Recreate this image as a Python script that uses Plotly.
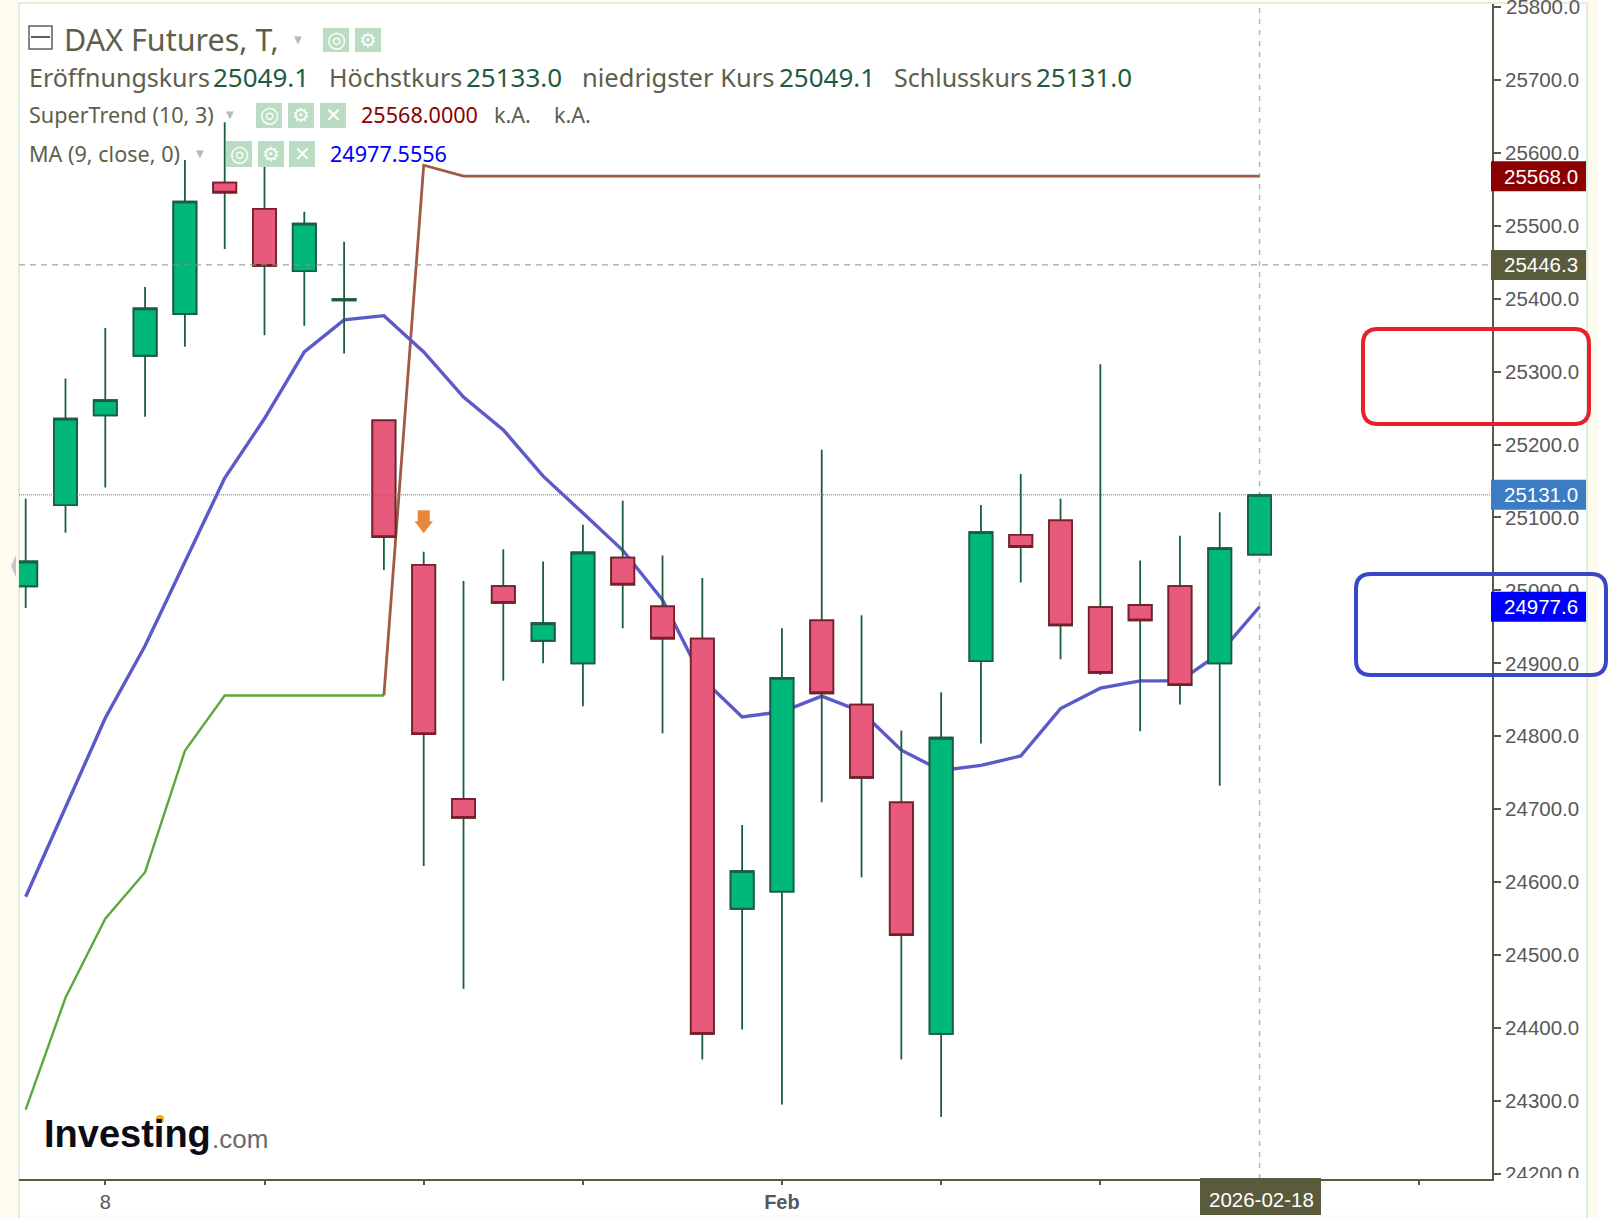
import plotly.graph_objects as go

W, H = 1613, 1218
L, R, T, B = 19, 1492, 4, 1179

dates = ["2026-01-06","2026-01-07","2026-01-08","2026-01-09","2026-01-12","2026-01-13","2026-01-14","2026-01-15",
         "2026-01-16","2026-01-19","2026-01-20","2026-01-21","2026-01-22","2026-01-23","2026-01-26","2026-01-27",
         "2026-01-28","2026-01-29","2026-01-30","2026-02-02","2026-02-03","2026-02-04","2026-02-05","2026-02-06",
         "2026-02-09","2026-02-10","2026-02-11","2026-02-12","2026-02-13","2026-02-16","2026-02-17","2026-02-18"]
future_dates = ["2026-02-19","2026-02-20","2026-02-23","2026-02-24","2026-02-25","2026-02-26"]

opens  = [25005.7,25117,25240,25321.7,25379,25559,25523,25437.7,25397.6,25233,25035,24714,25006,24931,24900,25045,
          24978,24934,24563.5,24587,24959,24843.5,24709.5,24392,24903,25076,25096,24977,24980,25006,24900,25049.1]
highs  = [25125.6,25290.6,25359.7,25416,25590,25642,25594,25519,25478,25233,25053,25013,25056.5,25039.6,25090,25123,
          25048,25017,24678.5,24948,25193,24966,24808,24860.5,25117,25159.5,25125.6,25310,25041,25075,25107,25133]
lows   = [24976,25079,25141,25238,25334,25468,25350,25362.7,25324.7,25028,24622,24454,24876,24900,24841,24948,
          24804,24357,24398,24295,24709.6,24606.6,24357,24278,24790,25011,24905.6,24884,24807,24843.5,24732,25049.1]
closes = [25039.6,25235.6,25261,25386.6,25533,25545.5,25445,25503,25399.2,25073,24803,24688,24983,24955,25052,25008,
          24934,24392,24615,24880,24859,24743,24527.5,24798,25080,25059.5,24952,24887,24959,24870,25058,25131]

ma9 = [24580,24702.5,24825,24924,25038,25154,25235.6,25327,25371,25376.7,25327,25265,25220,25156.6,25106,25055,
       24987,24879,24826.6,24833.6,24855,24833.6,24781,24753,24760,24773,24838,24866,24876,24876,24914,24977.6]
st_up = [24288,24441.5,24550,24613.6,24780,24856,24856,24856,24856,24856]
st_down = [24856,25583] + [25568.0] * 21

signal_date = ["2026-01-20"]
signal_stem = [25101.6]
signal_head = [25089.4]

y_ticks = [24200,24300,24400,24500,24600,24700,24800,24900,25000,25100,25200,25300,25400,25500,25600,25700,25800]
y_tick_text = ["" if v == 25800 else f"{v:.1f}" for v in y_ticks]
x_tick_dates = ["2026-01-08","2026-01-14","2026-01-20","2026-01-26","2026-02-02","2026-02-06","2026-02-12","2026-02-18","2026-02-24"]
x_tick_text  = ["8","","","","<b>Feb</b>","","","",""]

last_close, last_prev, last_st, last_ma = 25131.0, 25446.3, 25568.0, 24977.6
Y_RANGE = [24193, 25804]
X_RANGE = [-0.168, 36.84]

AX = "#5a5a40"; TXT = "#5e5e4c"; TICK = "#585858"; VAL = "#1e5c40"
UPFILL, UPLINE = "#00b87c", "#1b5e3f"
DNFILL, DNLINE = "#e85a7c", "#7a1f2a"
SANS = "Liberation Sans"; HEAD = "Noto Sans"

def px(x): return (x - L) / (R - L)
def py(y): return (B - y) / (B - T)

fig = go.Figure()
fig.add_trace(go.Scatter(x=dates[:10], y=st_up, mode="lines", line=dict(color="#5ca83f", width=2.4)))
fig.add_trace(go.Scatter(x=dates[9:], y=st_down, mode="lines", line=dict(color="#a05a42", width=2.8)))
fig.add_trace(go.Scatter(x=dates, y=ma9, mode="lines", line=dict(color="#5a5acb", width=3.4)))
fig.add_trace(go.Scatter(x=signal_date, y=signal_stem, mode="markers",
                         marker=dict(symbol="square", size=12, color="#e8873a", line=dict(width=0))))
fig.add_trace(go.Scatter(x=signal_date, y=signal_head, mode="markers",
                         marker=dict(symbol="triangle-down", size=16, color="#e8873a", line=dict(width=0))))
# wicks
fig.add_trace(go.Candlestick(x=dates, open=opens, high=highs, low=lows, close=closes, yaxis="y2", whiskerwidth=0,
    increasing=dict(line=dict(color=UPLINE, width=1.8), fillcolor="rgba(0,0,0,0)"),
    decreasing=dict(line=dict(color=UPLINE, width=1.8), fillcolor="rgba(0,0,0,0)")))
# bodies
body_hi = [max(o, c) for o, c in zip(opens, closes)]
body_lo = [min(o, c) for o, c in zip(opens, closes)]
fig.add_trace(go.Candlestick(x=dates, open=opens, high=body_hi, low=body_lo, close=closes, yaxis="y2", whiskerwidth=0,
    increasing=dict(line=dict(color=UPLINE, width=1.8), fillcolor=UPFILL),
    decreasing=dict(line=dict(color=DNLINE, width=1.8), fillcolor=DNFILL)))

shapes = []
def rect(x0, y0, x1, y1, fill=None, line=None, lw=0, layer="above"):
    shapes.append(dict(type="rect", xref="paper", yref="paper", x0=px(x0), x1=px(x1), y0=py(y1), y1=py(y0),
                       fillcolor=fill or "rgba(0,0,0,0)", line=dict(color=line or "rgba(0,0,0,0)", width=lw), layer=layer))
def rrect(x0, y0, x1, y1, r, color, lw):
    a, b, c, d = px(x0), px(x1), py(y0), py(y1)
    rx, ry = r / (R - L), r / (B - T)
    p = (f"M {a+rx} {c} L {b-rx} {c} Q {b} {c} {b} {c-ry} L {b} {d+ry} Q {b} {d} {b-rx} {d} "
         f"L {a+rx} {d} Q {a} {d} {a} {d+ry} L {a} {c-ry} Q {a} {c} {a+rx} {c} Z")
    shapes.append(dict(type="path", path=p, xref="paper", yref="paper", line=dict(color=color, width=lw), layer="above"))

CREAM = "#fffcef"
# page edges
rect(0, 0, 18, H, CREAM, layer="below")
rect(1588, 0, 1598, H, CREAM, layer="below")
rect(0, 1215, 1598, H, CREAM, layer="below")
# frame
for x in (19, 1587):
    shapes.append(dict(type="line", xref="paper", yref="paper", x0=px(x), x1=px(x), y0=py(H), y1=py(3),
                       line=dict(color="#bcdcc4", width=1), layer="below"))
shapes.append(dict(type="line", xref="paper", yref="paper", x0=px(19), x1=px(1587), y0=py(3), y1=py(3),
                   line=dict(color="#dcdcb0", width=1.2), layer="above"))
# guide lines
shapes.append(dict(type="line", xref="paper", yref="y", x0=0, x1=1, y0=last_prev, y1=last_prev,
                   line=dict(color="#8f8f80", width=1, dash="6px,5px"), layer="above"))
shapes.append(dict(type="line", xref="paper", yref="y", x0=0, x1=1, y0=last_close, y1=last_close,
                   line=dict(color="#3f78d8", width=1, dash="1px,1px"), layer="above"))
shapes.append(dict(type="line", xref="x", yref="paper", x0=dates[-1], x1=dates[-1], y0=0, y1=1,
                   line=dict(color="#a0bea6", width=1.4, dash="5px,6px"), layer="below"))

# clip the lower tick label
rect(1497, 1178, 1586, 1215, "#ffffff")

# value tags on the axis
tags = [(last_st, "#8b0000"), (last_prev, "#5a5a3c"), (last_close, "#3c7cc4"), (last_ma, "#0000ff")]
for v, c in tags:
    shapes.append(dict(type="rect", xref="paper", yref="y", ysizemode="pixel", yanchor=v, y0=-15, y1=15,
                       x0=px(1491), x1=px(1586), fillcolor=c, line=dict(width=0), layer="above"))
rect(1200, 1178, 1321, 1215, "#5a5a3c")

# highlight boxes
rrect(1363, 329, 1589, 424, 15, "#e8202c", 4)
rrect(1356, 574, 1606, 675, 15, "#3a46c8", 4)

# header icons
def btn(x0, y0, x1, y1):
    rect(x0, y0, x1, y1, "#b9dcc2")
for b in [(323, 28, 349, 52), (355, 28, 381, 52),
          (256, 103, 282, 128), (288, 103, 314, 128), (320, 103, 346, 128),
          (226, 141, 252, 167), (258, 141, 284, 167), (289, 141, 315, 167)]:
    btn(*b)
rect(29, 26, 52, 49, None, "#5e5e5e", 1.5)
shapes.append(dict(type="line", xref="paper", yref="paper", x0=px(31), x1=px(50), y0=py(37), y1=py(37),
                   line=dict(color="#5e5e5e", width=2), layer="above"))
# left scroll handle
shapes.append(dict(type="path", xref="paper", yref="paper", layer="above", fillcolor="#c4c4c4", line=dict(width=0),
                   path=f"M {px(11)} {py(566)} L {px(16)} {py(555)} L {px(16)} {py(577)} Z"))
# logo dot
shapes.append(dict(type="circle", xref="paper", yref="paper", x0=px(156), x1=px(164), y0=py(1123), y1=py(1115),
                   fillcolor="#f0a818", line=dict(width=0), layer="above"))

anns = []
def txt(x, y, s, size, color, family=HEAD, anchor="left", bold=False):
    anns.append(dict(xref="paper", yref="paper", x=px(x), y=py(y), text=f"<b>{s}</b>" if bold else s, showarrow=False,
                     xanchor=anchor, yanchor="middle", font=dict(family=family, size=size, color=color),
                     borderpad=0, borderwidth=0))

txt(64, 39, "DAX Futures, T,", 30.5, TXT)
for x, s, c, z in [(29, "Eröffnungskurs", TXT, 25), (213, "25049.1", VAL, 26), (329, "Höchstkurs", TXT, 25), (466, "25133.0", VAL, 26),
                   (582, "niedrigster Kurs", TXT, 25.5), (779, "25049.1", VAL, 26), (894, "Schlusskurs", TXT, 25), (1036, "25131.0", VAL, 26)]:
    txt(x, 77, s, z, c)
for x, s, c in [(29, "SuperTrend (10, 3)", TXT), (361, "25568.0000", "#8b0000"), (494, "k.A.", TXT), (554, "k.A.", TXT)]:
    txt(x, 115, s, 21.6, c)
for x, s, c in [(29, "MA (9, close, 0)", TXT), (330, "24977.5556", "#0000ff")]:
    txt(x, 154, s, 21.6, c)
for x, y in [(298, 39), (230, 115), (200, 154)]:
    txt(x, y, "▼", 10, "#b8b8b8", "DejaVu Sans", "center")
for (x, y, g, s) in [(336, 40, "◎", 22), (368, 40, "⚙", 20),
                     (269, 115, "◎", 22), (301, 115, "⚙", 20), (333, 115, "✕", 20),
                     (239, 154, "◎", 22), (271, 154, "⚙", 20), (302, 154, "✕", 20)]:
    txt(x, y, g, s, "#ffffff", "DejaVu Sans", "center")

anns.append(dict(xref="paper", yref="y", x=px(1503.5), y=25800, text="25800.0", showarrow=False, xanchor="left", yanchor="middle",
                 font=dict(family=SANS, size=20.5, color=TICK)))
for v, s in [(last_st, "25568.0"), (last_prev, "25446.3"), (last_close, "25131.0"), (last_ma, "24977.6")]:
    anns.append(dict(xref="paper", yref="y", x=px(1502), y=v, text=s, showarrow=False, xanchor="left", yanchor="middle",
                     font=dict(family=SANS, size=20.5, color="#ffffff")))
txt(1261, 1199, "2026-02-18", 20.5, "#ffffff", SANS, "center")
txt(44, 1134, "Investing", 38, "#0c0c14", SANS, bold=True)
txt(212, 1139, ".com", 26, "#6a6a6a", SANS)

fig.update_layout(
    width=W, height=H, autosize=False, showlegend=False,
    margin=dict(l=L, r=W - R, t=T, b=H - B, pad=0),
    paper_bgcolor="#ffffff", plot_bgcolor="#ffffff",
    boxgap=0.42, boxgroupgap=0, boxmode="overlay",
    xaxis=dict(type="category", categoryorder="array", categoryarray=dates + future_dates, range=X_RANGE,
               rangeslider=dict(visible=False), showgrid=False, zeroline=False, fixedrange=True,
               tickmode="array", tickvals=x_tick_dates, ticktext=x_tick_text, ticks="outside", ticklen=4, tickwidth=1.5,
               tickcolor=AX, showline=True, linecolor=AX, linewidth=2,
               tickfont=dict(family=SANS, size=20, color=TICK)),
    yaxis=dict(side="right", range=Y_RANGE, tickmode="array", tickvals=y_ticks,
               ticktext=y_tick_text, showgrid=False, zeroline=False,
               ticks="outside", ticklen=7, tickwidth=1.5, tickcolor=AX, showline=True, linecolor=AX, linewidth=2,
               tickfont=dict(family=SANS, size=20.5, color=TICK), ticklabelstandoff=0),
    yaxis2=dict(overlaying="y", side="right", range=Y_RANGE, visible=False),
    shapes=shapes, annotations=anns,
)
fig.write_html("out.html", config={"displayModeBar": False},
               post_script="document.body.style.margin='0';document.documentElement.style.overflow='hidden';")
